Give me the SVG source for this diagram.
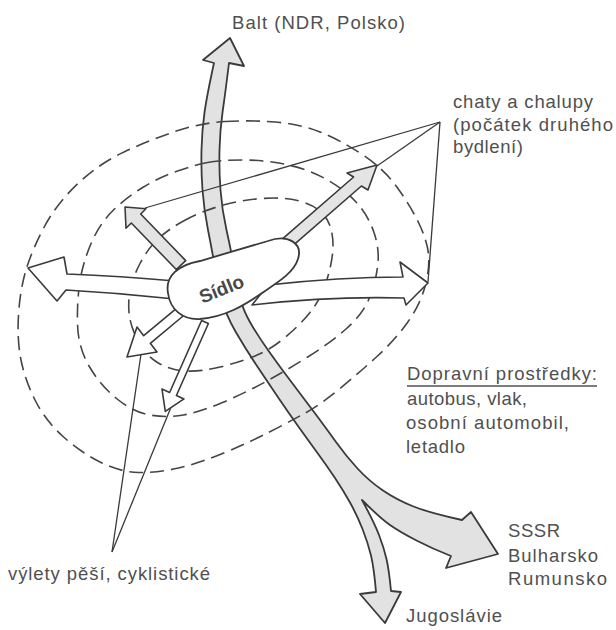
<svg xmlns="http://www.w3.org/2000/svg" width="616" height="630" viewBox="0 0 616 630">
<style>
.zone{fill:none;stroke:#454545;stroke-width:1.6;stroke-dasharray:14 7}
.lead{fill:none;stroke:#3a3a3a;stroke-width:1.3}
.band{fill:#e2e2e2;stroke:#3a3a3a;stroke-width:1.8;stroke-linejoin:round}
.arr{stroke:#3a3a3a;stroke-width:1.6;stroke-linejoin:round}
.g{fill:#e4e4e4}
.w{fill:#ffffff}
text{font-family:"Liberation Sans",Arial,sans-serif;font-size:18.5px;fill:#505050}
</style>
<rect width="616" height="630" fill="#ffffff"/>
<g id="connectors">
  <path id="main-route" class="band" d="M230,38 L244,66 L229,63 L227,79 Q225,95 222.5,112.5 Q220,130 219.5,150 Q219,170 220.5,190 Q222,210 226.5,230 Q231,250 234,267.5 Q237,285 240,297.5 Q243,310 250.5,323 Q258,336 269,351.5 Q280,367 292.5,383.5 Q305,400 315.5,414 Q326,428 336,442 Q346,456 357.5,468.5 Q369,481 383,490.5 Q397,500 413.5,506.5 Q430,513 462,520 L471,512 L498,554 L446,568 L451,556 Q433,549 416.5,540.5 Q400,532 390,525 Q380,518 362,500 Q374,522 379,535 Q384,548 386.5,559 Q389,570 391,591 L401,592 L385,623 L360,594 L376,592 Q374,568 371,555.5 Q368,543 362.5,529 Q357,515 350,502.5 Q343,490 335,478 Q327,466 317.5,453 Q308,440 298,426 Q288,412 277.5,396.5 Q267,381 256,364.5 Q245,348 235.5,331.5 Q226,315 222,300 Q218,285 215,267.5 Q212,250 208,230 Q204,210 202.5,190 Q201,170 201.5,150 Q202,130 204.5,112.5 Q207,95 214,63 L203,60 Z"/>
  <g id="zones">
    <path class="zone" d="M225,121.5 Q250,120 275,122 Q300,124 320,132 Q340,140 361.5,154 Q383,168 396.5,186.5 Q410,205 418.5,222.5 Q427,240 428.5,254 Q430,268 425,286.5 Q420,305 407.5,322.5 Q395,340 377.5,356 Q360,372 340,388.5 Q320,405 303.5,414 Q287,423 268.5,432.5 Q250,442 225,452.5 Q200,463 178.5,468 Q157,473 138.5,472.5 Q120,472 100,462 Q80,452 62.5,436 Q45,420 35,400 Q25,380 21,360 Q17,340 18.5,315 Q20,290 26,270 Q32,250 44.5,226.5 Q57,203 78.5,183 Q100,163 125,151.5 Q150,140 175,131.5 Q200,123 225,121.5 Z"/>
    <path class="zone" d="M207.5,162.5 Q220,160 243.5,160 Q267,160 288.5,165 Q310,170 327.5,180 Q345,190 356.5,202.5 Q368,215 374,232.5 Q380,250 377.5,267.5 Q375,285 368.5,300 Q362,315 346,329 Q330,343 308.5,356.5 Q287,370 266,381.5 Q245,393 222.5,402.5 Q200,412 183.5,415 Q167,418 150,415 Q133,412 116.5,398.5 Q100,385 89,366 Q78,347 77.5,323.5 Q77,300 80,281 Q83,262 91.5,242.5 Q100,223 113.5,210 Q127,197 143.5,187 Q160,177 177.5,171 Q195,165 207.5,162.5 Z"/>
    <path class="zone" d="M183.5,221 Q200,212 220,206 Q240,200 261.5,198.5 Q283,197 297.5,200.5 Q312,204 320,211 Q328,218 331,229 Q334,240 332.5,254 Q331,268 325.5,284 Q320,300 310,312.5 Q300,325 285,337.5 Q270,350 255,356 Q240,362 220,367 Q200,372 185,371 Q170,370 157.5,362.5 Q145,355 137.5,340 Q130,325 129,312.5 Q128,300 130.5,288.5 Q133,277 140,263.5 Q147,250 157,240 Q167,230 183.5,221 Z"/>
  </g>
  <g id="leaders">
    <line class="lead" x1="440" y1="122" x2="145" y2="208"/>
    <line class="lead" x1="440" y1="122" x2="377" y2="166"/>
    <line class="lead" x1="440" y1="122" x2="428" y2="282"/>
    <line class="lead" x1="112" y1="552" x2="141" y2="354"/>
    <line class="lead" x1="112" y1="552" x2="178" y2="390"/>
  </g>
  <polygon id="arrow-nw" class="arr g" points="125,207 146,208.8 140.7,214 185.7,260.6 176.3,269.5 131.3,223 126,228.2"/>
  <polygon id="arrow-ne" class="arr g" points="377,165 368,190 361.4,186 289.7,248.3 281.9,239.3 353.6,177 347,173"/>
  <polygon id="arrow-sw" class="arr w" points="127,357 137,327 143.7,335.7 178.3,306.9 184.9,314.5 150.3,343.3 157,352"/>
  <polygon id="arrow-s" class="arr w" points="165.3,411.4 162,389.1 169.6,392.5 201.6,320.5 208.4,323.5 176.4,395.5 184,398.9"/>
  <path id="arrow-w" class="arr w" d="M28,268 L64,257 L67,274 Q120,276 175,281 L175,299 Q120,293 66,290 L57,301 Z"/>
  <path id="arrow-e" class="arr w" d="M268,285 Q340,277 403,277 L400,262 L428,283 L406,305 L404,298 Q330,296 252,305 Z"/>
</g>
<g id="sidlo">
  <path fill="#ffffff" stroke="#3a3a3a" stroke-width="1.8" d="M168,293 C165,276 178,265 200,261 L268,241 C288,234 303,243 298,259 C294,272 280,281 262,293 C245,305 225,317 200,319 C182,320 170,309 168,293 Z"/>
  <text transform="translate(224,295) rotate(-22)" text-anchor="middle" style="font-weight:bold;font-size:19px;fill:#484848">Sídlo</text>
</g>
<g id="label-balt"><text x="232" y="29" textLength="173" lengthAdjust="spacing">Balt (NDR, Polsko)</text></g>
<g id="label-chaty">
  <text x="453" y="108" textLength="140" lengthAdjust="spacing">chaty a chalupy</text>
  <text x="453" y="131" textLength="160" lengthAdjust="spacing">(počátek druhého</text>
  <text x="453" y="153" textLength="70" lengthAdjust="spacing">bydlení)</text>
</g>
<g id="label-doprava">
  <text x="407" y="380" textLength="190" lengthAdjust="spacing">Dopravní prostředky:</text>
  <line x1="407" y1="386" x2="597" y2="386" stroke="#505050" stroke-width="1.3"/>
  <text x="407" y="405" textLength="120" lengthAdjust="spacing">autobus, vlak,</text>
  <text x="406" y="429" textLength="163" lengthAdjust="spacing">osobní automobil,</text>
  <text x="406" y="453" textLength="59" lengthAdjust="spacing">letadlo</text>
</g>
<g id="label-sssr">
  <text x="508" y="537" textLength="52" lengthAdjust="spacing">SSSR</text>
  <text x="508" y="562" textLength="90" lengthAdjust="spacing">Bulharsko</text>
  <text x="508" y="585" textLength="99" lengthAdjust="spacing">Rumunsko</text>
</g>
<g id="label-jugo"><text x="406" y="622" textLength="96" lengthAdjust="spacing">Jugoslávie</text></g>
<g id="label-vylety"><text x="8" y="580" textLength="202" lengthAdjust="spacing">výlety pěší, cyklistické</text></g>
</svg>
